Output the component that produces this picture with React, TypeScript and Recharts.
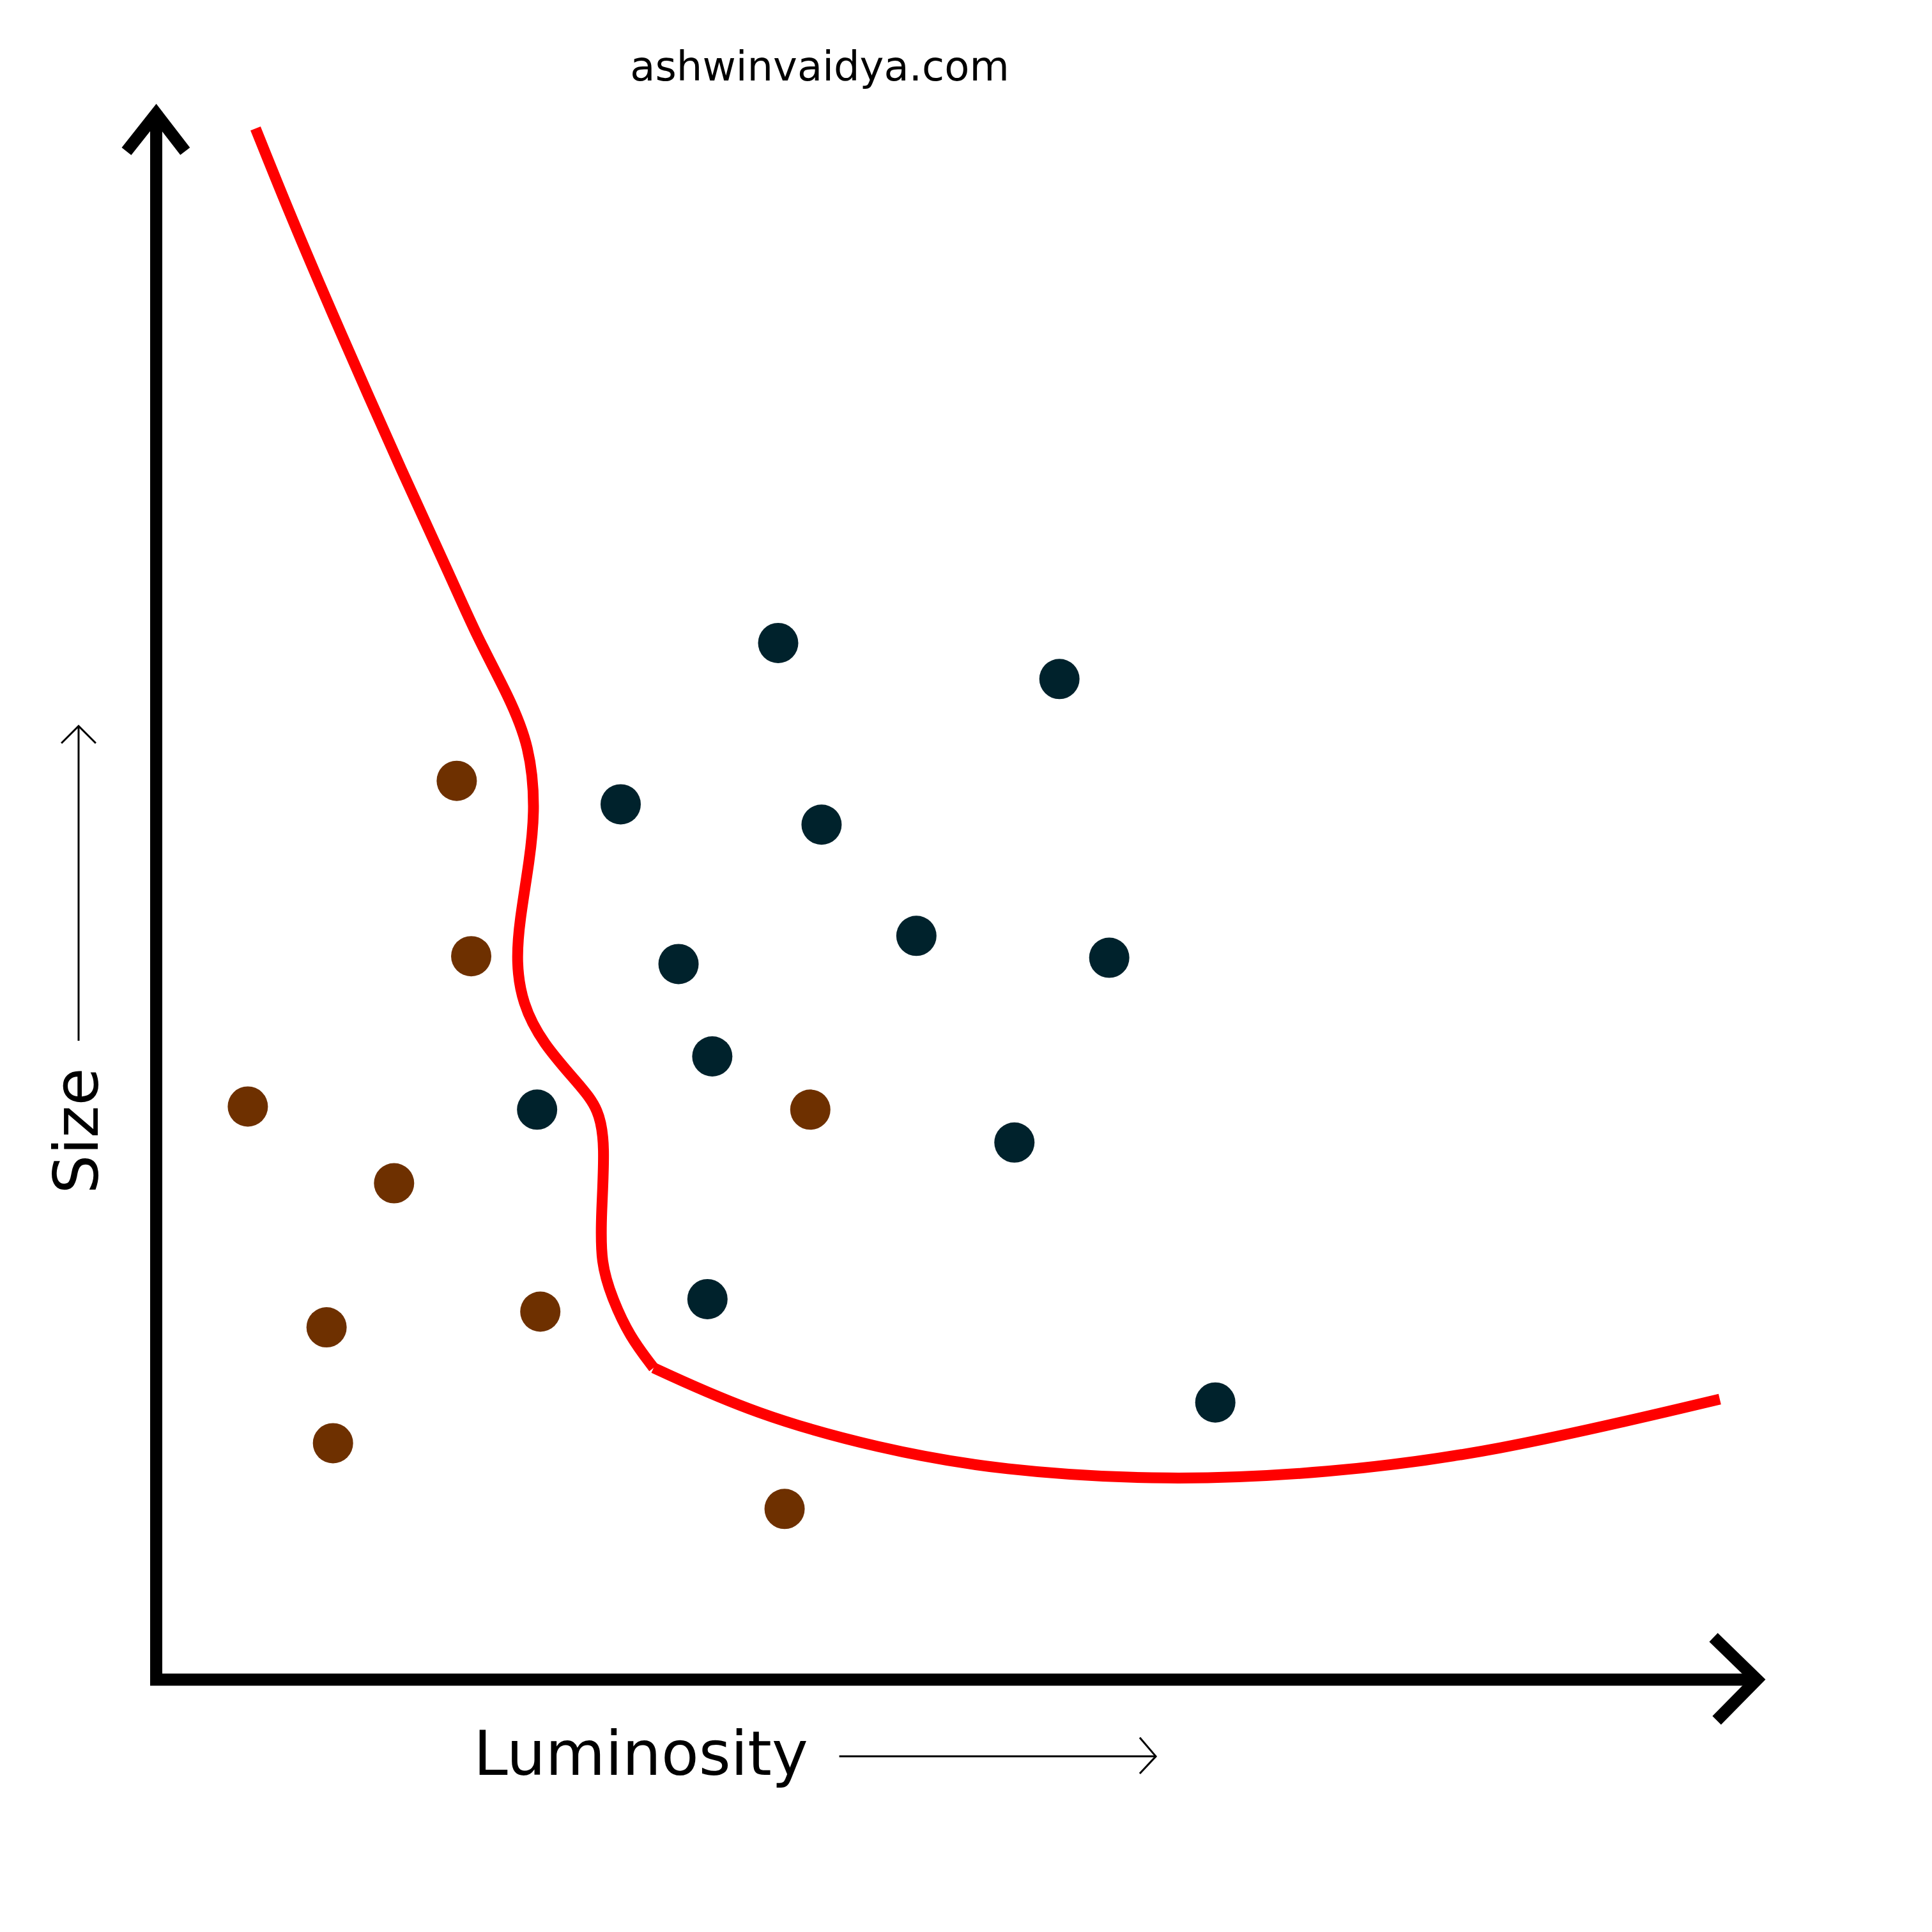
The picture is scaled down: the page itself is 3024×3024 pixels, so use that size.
import React from "react"
import { ComposedChart, Line, Scatter, XAxis, YAxis } from "recharts"

// layout of the figure, in page pixels
const SIZE = 3024
const ORIGIN_X = 244.5
const ORIGIN_Y = 2629
const PX_PER_X = 25.155
const PX_PER_Y = 24.51

const X_DOMAIN = [-ORIGIN_X / PX_PER_X, (SIZE - ORIGIN_X) / PX_PER_X]
const Y_DOMAIN = [-(SIZE - ORIGIN_Y) / PX_PER_Y, ORIGIN_Y / PX_PER_Y]

// class A (brown) samples
const brownX = [18.7, 19.6, 5.7, 14.8, 10.6, 11.0, 23.9, 40.7, 39.1]
const brownY = [57.4, 46.2, 36.6, 31.7, 22.5, 15.1, 23.5, 36.4, 10.9]

// class B (dark) samples
const darkX = [38.7, 56.2, 28.9, 41.4, 47.3, 32.5, 59.3, 34.6, 23.7, 53.4, 34.3, 65.9]
const darkY = [66.2, 63.9, 55.9, 54.6, 47.5, 45.7, 46.1, 39.8, 36.4, 34.3, 24.3, 17.7]

// decision boundary: upper wiggle, then the lower sweep from the corner
const upperX = [6.18, 8.41, 11.23, 15.48, 18.31, 19.94, 21.96, 23.24, 23.59, 23.24, 22.6, 22.4, 22.76, 24.03, 26.3, 27.57, 27.93, 27.69, 27.65, 28.4, 29.44, 30.95]
const upperY = [99.06, 93.35, 86.58, 76.7, 70.46, 66.63, 62.75, 59.61, 55.69, 52.35, 48.43, 45.82, 43.21, 40.64, 38.03, 36.43, 34.11, 29.74, 26.6, 24.28, 21.95, 19.91]
const lowerX = [30.95, 37.31, 44.9, 52.49, 63.07, 72.81, 82.94, 97.29]
const lowerY = [19.91, 16.93, 14.77, 13.34, 12.69, 13.18, 14.44, 17.91]

// axes with arrow heads
const axisX = [0, 0, 99.7]
const axisY = [100, 0, 0]
const yHeadX = [-1.85, 0, 1.8]
const yHeadY = [97.6, 100, 97.6]
const xHeadX = [96.9, 99.6, 97.1]
const xHeadY = [2.7, 0, -2.6]

// small label arrows
const sizeArrowX = [-4.83, -4.83]
const sizeArrowY = [40.8, 60.9]
const sizeHeadX = [-5.9, -4.83, -3.76]
const sizeHeadY = [59.8, 60.9, 59.8]
const lumArrowX = [42.5, 62.2]
const lumArrowY = [-4.9, -4.9]
const lumHeadX = [61.2, 62.2, 61.2]
const lumHeadY = [-3.7, -4.9, -6.0]

const zip = (xs: number[], ys: number[]) => xs.map((x, i) => ({ x, y: ys[i] }))

const BROWN = "#6e3000"
const DARK = "#00222c"
const FONT = "DejaVu Sans, sans-serif"

const dot = (fill: string) => (props: any) => (
    <circle cx={props.cx} cy={props.cy} r={31.5} fill={fill} />
)

function Path({ xs, ys, color, width, type = "linear" }: any) {
    return (
        <Line
            data={zip(xs, ys)}
            dataKey="y"
            type={type}
            stroke={color}
            strokeWidth={width}
            strokeLinejoin="miter"
            dot={false}
            activeDot={false}
            isAnimationActive={false}
        />
    )
}

export default function App() {
    return (
        <div style={{ position: "absolute", left: 0, top: 0, width: SIZE, height: SIZE, background: "#fff" }}>
            <ComposedChart width={SIZE} height={SIZE} margin={{ top: 0, right: 0, bottom: 0, left: 0 }}>
                <XAxis type="number" dataKey="x" domain={X_DOMAIN} allowDataOverflow hide />
                <YAxis type="number" dataKey="y" domain={Y_DOMAIN} allowDataOverflow hide />

                {Path({ xs: axisX, ys: axisY, color: "#000", width: 19 })}
                {Path({ xs: yHeadX, ys: yHeadY, color: "#000", width: 19 })}
                {Path({ xs: xHeadX, ys: xHeadY, color: "#000", width: 19 })}

                {Path({ xs: sizeArrowX, ys: sizeArrowY, color: "#000", width: 3 })}
                {Path({ xs: sizeHeadX, ys: sizeHeadY, color: "#000", width: 3 })}
                {Path({ xs: lumArrowX, ys: lumArrowY, color: "#000", width: 3 })}
                {Path({ xs: lumHeadX, ys: lumHeadY, color: "#000", width: 3 })}

                {Path({ xs: upperX, ys: upperY, color: "#ff0000", width: 17, type: "basis" })}
                {Path({ xs: lowerX, ys: lowerY, color: "#ff0000", width: 17, type: "basis" })}

                <Scatter data={zip(brownX, brownY)} dataKey="y" shape={dot(BROWN)} isAnimationActive={false} />
                <Scatter data={zip(darkX, darkY)} dataKey="y" shape={dot(DARK)} isAnimationActive={false} />

                <text x={1283} y={126} textAnchor="middle" fontFamily={FONT} fontSize={64} fill="#000">
                    ashwinvaidya.com
                </text>
                <text x={1003} y={2778} textAnchor="middle" fontFamily={FONT} fontSize={96} fill="#000">
                    Luminosity
                </text>
                <text
                    x={153}
                    y={1770}
                    textAnchor="middle"
                    fontFamily={FONT}
                    fontSize={96}
                    fill="#000"
                    transform="rotate(-90 153 1770)"
                >
                    Size
                </text>
            </ComposedChart>
        </div>
    )
}
